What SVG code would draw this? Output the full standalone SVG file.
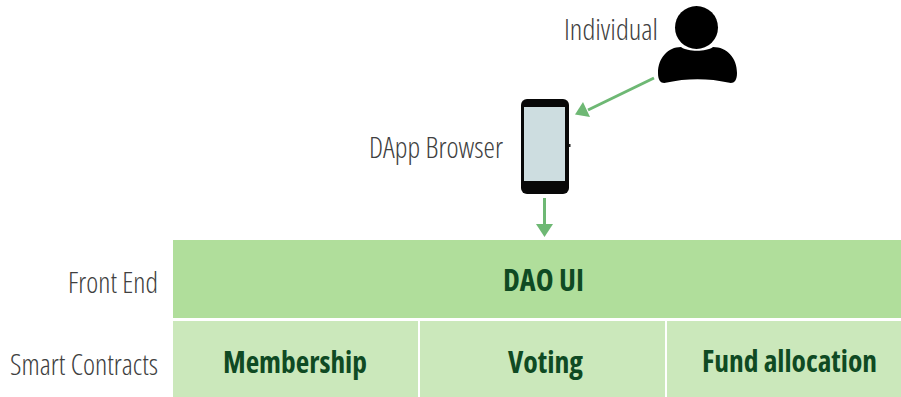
<svg xmlns="http://www.w3.org/2000/svg" width="901" height="397" viewBox="0 0 901 397">
<style>
.lab{font-family:"Open Sans","Noto Sans",sans-serif;font-weight:300;font-stretch:75%;font-size:30px;fill:#404040}
.box{font-family:"Open Sans","Noto Sans",sans-serif;font-weight:700;font-stretch:75%;font-size:29.500px;fill:#0f4a23}
.con{stroke:#6eb874;stroke-width:3;fill:none}
.head{fill:#6eb874}
</style>
<rect width="901" height="397" fill="#fff"/>
<g id="connectors">
<path class="con" d="M654 78L588 110"/><path class="head" d="M575 114.500L583 102L590 117Z"/>
<path class="con" d="M544.500 198V226"/><path class="head" d="M536 224H553L544.500 237Z"/>
</g>
<g id="individual">
<circle cx="696.500" cy="27.500" r="21.500" fill="#000"/>
<path d="M658 73C658 58 668 47 681 47C688 52 706 52 713 47C727 47 737 58 737 73C737 82 733 84 728 82.500C710 78 685 78 667 82.500C662 84 658 82 658 73Z" fill="#000"/>
<text class="lab" x="564" y="40" textLength="94" lengthAdjust="spacingAndGlyphs">Individual</text>
</g>
<g id="dapp-browser">
<rect x="521" y="99" width="48" height="95" rx="6" fill="#080808"/>
<rect x="569" y="144" width="1.500" height="3" fill="#222"/>
<rect x="524" y="107" width="41" height="74" fill="#cddde0"/>
<text class="lab" x="369" y="158" textLength="134" lengthAdjust="spacingAndGlyphs">DApp Browser</text>
</g>
<g id="front-end">
<rect x="173" y="240" width="728" height="78" fill="#b0de9b"/>
<text class="box" x="503" y="291" textLength="81" lengthAdjust="spacingAndGlyphs">DAO UI</text>
<text class="lab" x="68" y="293" textLength="90" lengthAdjust="spacingAndGlyphs">Front End</text>
</g>
<g id="membership">
<rect x="173" y="321" width="245" height="76" fill="#cbe8bb"/>
<text class="box" x="223" y="373" textLength="144" lengthAdjust="spacingAndGlyphs">Membership</text>
<text class="lab" x="10" y="375" textLength="148" lengthAdjust="spacingAndGlyphs">Smart Contracts</text>
</g>
<g id="voting">
<rect x="420" y="321" width="245" height="76" fill="#cbe8bb"/>
<text class="box" x="508" y="373" textLength="75" lengthAdjust="spacingAndGlyphs">Voting</text>
</g>
<g id="fund-allocation">
<rect x="667" y="321" width="234" height="76" fill="#cbe8bb"/>
<text class="box" x="702" y="372" textLength="175" lengthAdjust="spacingAndGlyphs">Fund allocation</text>
</g>
</svg>
